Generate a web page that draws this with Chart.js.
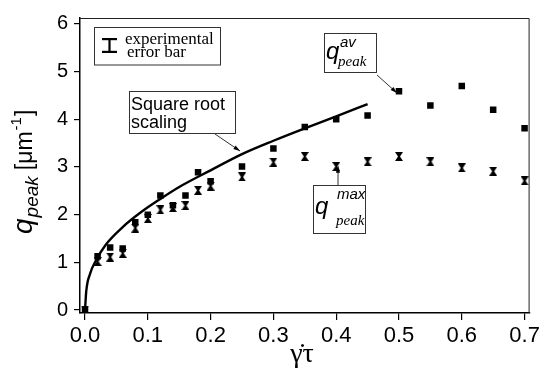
<!DOCTYPE html>
<html>
<head>
<meta charset="utf-8">
<script src="https://cdn.jsdelivr.net/npm/chart.js@4.4.1/dist/chart.umd.min.js"></script>
<style>
  html, body { margin: 0; padding: 0; background: #fff; }
  #wrap { width: 543px; height: 375px; }
</style>
</head>
<body>
<div id="wrap"><canvas id="qpeakChart" width="543" height="375"></canvas></div>
<script>
/* =========================
   DATA
========================= */
const xTicks = [0, 0.1, 0.2, 0.3, 0.4, 0.5, 0.6, 0.7];
const yTicks = [0, 1, 2, 3, 4, 5, 6];

const shearRates = [0, 0.02, 0.04, 0.06, 0.08, 0.10, 0.12, 0.14, 0.16, 0.18, 0.20,
                    0.25, 0.30, 0.35, 0.40, 0.45, 0.50, 0.55, 0.60, 0.65, 0.70];
const qPeakAv  = [0, 1.13, 1.31, 1.29, 1.84, 2.0, 2.4, 2.2, 2.4, 2.89, 2.7,
                  3.01, 3.39, 3.84, 4.0, 4.08, 4.59, 4.29, 4.70, 4.2, 3.81];
const qPeakMax = [0, 1.02, 1.11, 1.19, 1.72, 1.92, 2.1, 2.15, 2.19, 2.51, 2.6,
                  2.79, 3.1, 3.22, 3.01, 3.11, 3.22, 3.11, 2.98, 2.91, 2.71];

// square root scaling curve, traced
const fitX = [0, 0.002, 0.008, 0.017, 0.033, 0.06, 0.09, 0.12, 0.15, 0.2, 0.25, 0.3, 0.35, 0.4, 0.45];
const fitY = [0, 0.4, 0.76, 1.03, 1.37, 1.74, 2.06, 2.33, 2.58, 2.93, 3.27, 3.55, 3.81, 4.06, 4.32];

const SANS = "'Liberation Sans', Arial, sans-serif";
const SERIF = "'Liberation Serif', 'Times New Roman', serif";

/* =========================
   HELPERS
========================= */
function pts(xs, ys) {
  return xs.map((x, i) => ({ x, y: ys[i] }));
}

// hourglass marker for q_peak^max
function makeBowtie() {
  const c = document.createElement("canvas");
  c.width = 8; c.height = 9;
  const g = c.getContext("2d");
  g.fillStyle = "#000";
  g.beginPath();
  g.moveTo(0, 0); g.lineTo(8, 0); g.lineTo(5, 4.5); g.lineTo(8, 9);
  g.lineTo(0, 9); g.lineTo(3, 4.5); g.closePath();
  g.fill();
  return c;
}

function arrow(ctx, x1, y1, x2, y2) {
  const ang = Math.atan2(y2 - y1, x2 - x1);
  ctx.beginPath();
  ctx.moveTo(x1, y1); ctx.lineTo(x2, y2);
  ctx.stroke();
  ctx.beginPath();
  ctx.moveTo(x2, y2);
  ctx.lineTo(x2 - 7 * Math.cos(ang - 0.3), y2 - 7 * Math.sin(ang - 0.3));
  ctx.lineTo(x2 - 7 * Math.cos(ang + 0.3), y2 - 7 * Math.sin(ang + 0.3));
  ctx.closePath();
  ctx.fill();
}

/* =========================
   FRAME, TITLES, ANNOTATIONS
========================= */
const decorations = {
  id: "decorations",
  afterDraw(chart) {
    const { ctx, chartArea: a } = chart;
    ctx.save();
    ctx.fillStyle = "#000";
    ctx.strokeStyle = "#222";
    ctx.lineWidth = 1;

    // top + right frame
    ctx.beginPath();
    ctx.moveTo(a.left, a.top + 0.5);
    ctx.lineTo(a.right - 0.5, a.top + 0.5);
    ctx.lineTo(a.right - 0.5, a.bottom);
    ctx.stroke();

    // x title: gamma-dot tau
    ctx.font = "28px " + SERIF;
    ctx.textAlign = "center";
    ctx.textBaseline = "alphabetic";
    ctx.fillText("γ̇τ", 302, 362);

    // y title: q_peak [um^-1], rotated
    ctx.save();
    ctx.translate(32, 234);
    ctx.rotate(-Math.PI / 2);
    ctx.textAlign = "left";
    let x = 0;
    ctx.font = "italic 28px " + SANS;
    ctx.fillText("q", x, 0); x += ctx.measureText("q").width + 1;
    ctx.font = "italic 19px " + SANS;
    ctx.fillText("peak", x, 6); x += ctx.measureText("peak").width + 6;
    ctx.font = "23px " + SANS;
    ctx.fillText("[μm", x, 0); x += ctx.measureText("[μm").width + 1;
    ctx.font = "15px " + SANS;
    ctx.fillText("-1", x, -11); x += ctx.measureText("-1").width + 1;
    ctx.font = "23px " + SANS;
    ctx.fillText("]", x, 0);
    ctx.restore();

    ctx.textAlign = "left";
    ctx.lineWidth = 1;
    ctx.strokeStyle = "#333";

    // experimental error bar legend
    ctx.strokeRect(94.5, 27.5, 126, 37.5);
    ctx.fillRect(102, 38, 15, 2.2);
    ctx.fillRect(108.4, 38, 2.2, 15);
    ctx.fillRect(102, 50.8, 15, 2.2);
    ctx.font = "17px " + SERIF;
    ctx.fillText("experimental", 125, 44);
    ctx.fillText("error bar", 127, 57);

    // square root scaling label
    ctx.strokeRect(129.5, 91.5, 106, 42);
    ctx.font = "18px " + SANS;
    ctx.fillText("Square root", 131, 110);
    ctx.fillText("scaling", 131, 128);
    arrow(ctx, 215, 134, 240, 151);

    // q_peak^av label
    ctx.strokeRect(324.5, 33.5, 52, 39);
    ctx.font = "italic 24px " + SANS;
    ctx.fillText("q", 326, 59);
    ctx.font = "italic 15px " + SANS;
    ctx.fillText("av", 340, 47);
    ctx.font = "italic 15px " + SERIF;
    ctx.fillText("peak", 338, 66);
    arrow(ctx, 377, 75, 397, 93);

    // q_peak^max label
    ctx.strokeRect(313.5, 185.5, 52, 48);
    ctx.font = "italic 15px " + SANS;
    ctx.fillText("max", 337, 199);
    ctx.font = "italic 24px " + SANS;
    ctx.fillText("q", 315, 214);
    ctx.font = "italic 15px " + SERIF;
    ctx.fillText("peak", 336, 225);
    arrow(ctx, 338, 185, 338, 166);

    ctx.restore();
  }
};

/* =========================
   CHART
========================= */
const tickFontX = { family: SANS, size: 22 };
const tickFontY = { family: SANS, size: 20 };

new Chart(document.getElementById("qpeakChart"), {
  type: "scatter",
  data: {
    datasets: [
      {
        label: "square root scaling",
        data: pts(fitX, fitY),
        showLine: true,
        borderColor: "#000",
        borderWidth: 2.4,
        pointRadius: 0,
        cubicInterpolationMode: "monotone"
      },
      {
        label: "q_peak^av",
        data: pts(shearRates, qPeakAv),
        pointStyle: "rect",
        pointRadius: 4.6,
        backgroundColor: "#000",
        borderColor: "#000",
        borderWidth: 0
      },
      {
        label: "q_peak^max",
        data: pts(shearRates, qPeakMax),
        pointStyle: makeBowtie(),
        pointRadius: 4
      }
    ]
  },
  options: {
    responsive: false,
    animation: false,
    layout: { padding: { top: 14, right: 12, left: 0, bottom: 0 } },
    plugins: {
      legend: { display: false },
      tooltip: { enabled: false }
    },
    scales: {
      x: {
        type: "linear",
        min: -0.008,
        max: 0.708,
        afterBuildTicks: s => { s.ticks = xTicks.map(v => ({ value: v })); },
        afterFit: s => { s.height = 62; },
        ticks: {
          callback: v => Number(v).toFixed(1),
          font: tickFontX,
          color: "#000",
          padding: 3,
          maxRotation: 0,
          autoSkip: false
        },
        grid: { drawOnChartArea: false, tickLength: 7, color: "#000", lineWidth: 1.2 },
        border: { display: true, color: "#000", width: 1.5 }
      },
      y: {
        type: "linear",
        min: -0.062,
        max: 6.124,
        afterBuildTicks: s => { s.ticks = yTicks.map(v => ({ value: v })); },
        afterFit: s => { s.width = 80; },
        ticks: {
          font: tickFontY,
          color: "#000",
          padding: 6,
          autoSkip: false
        },
        grid: { drawOnChartArea: false, tickLength: 6, color: "#000", lineWidth: 1.2 },
        border: { display: true, color: "#000", width: 1.5 }
      }
    }
  },
  plugins: [decorations]
});
</script>
</body>
</html>
